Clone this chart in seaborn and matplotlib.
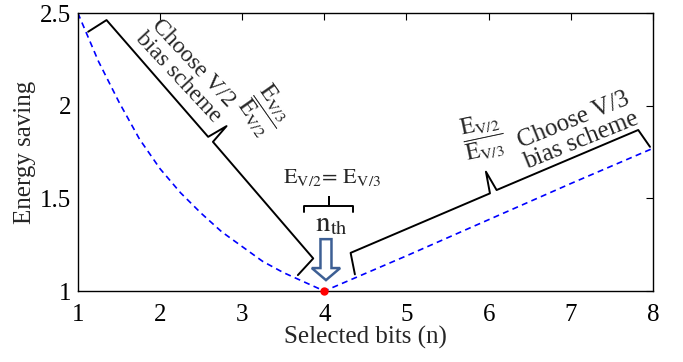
import numpy as np
import pandas as pd
import matplotlib
matplotlib.use("Agg")
import matplotlib.pyplot as plt
import matplotlib.patches as mpatches
import seaborn as sns

# ── Data ───────────────────────────────────────────────────────────────────────
bits = [1.0, 1.25, 1.5, 1.75, 2.0, 2.25, 2.5, 2.75, 3.0, 3.25, 3.5, 3.75, 4.0,
        5.0, 6.0, 7.0, 8.0]
saving = [2.50, 2.24, 2.02, 1.82, 1.66, 1.53, 1.42, 1.32, 1.24, 1.16, 1.10, 1.05, 1.00,
          1.19, 1.385, 1.58, 1.77]
n_th = 4
x_ticks = [1, 2, 3, 4, 5, 6, 7, 8]
y_ticks = [1, 1.5, 2, 2.5]

# brace outlines (data coords)
brace_left_x = [1.125, 1.349, 2.586, 2.810, 2.644, 3.865, 3.678]
brace_left_y = [2.399, 2.462, 1.832, 1.890, 1.805, 1.176, 1.086]
brace_right_x = [4.372, 4.320, 6.016, 5.967, 6.097, 7.821, 7.964]
brace_right_y = [1.090, 1.206, 1.527, 1.644, 1.545, 1.869, 1.778]
brace_mid_x = [3.75, 3.75, 4.06, 4.06, 4.06, 4.35, 4.35]
brace_mid_y = [1.426, 1.458, 1.458, 1.505, 1.458, 1.458, 1.426]

df = pd.DataFrame({"bits": bits, "saving": saving})

# ── Style ──────────────────────────────────────────────────────────────────────
sns.set_theme(style="white")
plt.rcParams["font.family"] = ["Liberation Serif", "DejaVu Serif"]
plt.rcParams["mathtext.fontset"] = "stix"

fig = plt.figure(figsize=(6.83, 3.62), dpi=100)
ax = fig.add_axes([0.114, 0.196, 0.842, 0.768])

sns.lineplot(data=df, x="bits", y="saving", ax=ax, color="#0000ff",
             linewidth=1.2, linestyle="--", dashes=False)
ax.lines[0].set_dashes((3.6, 2.6))
ax.plot([n_th], [1.0], "o", color="red", markersize=5, clip_on=False, zorder=5)

# braces
for bx, by in [(brace_left_x, brace_left_y), (brace_right_x, brace_right_y),
               (brace_mid_x, brace_mid_y)]:
    ax.plot(bx, by, color="black", linewidth=1.4, solid_joinstyle="round")

# hollow arrow pointing at n_th
arrow = mpatches.FancyArrow(4.02, 1.280, 0, -0.221, width=0.134, head_width=0.345,
                            head_length=0.065, length_includes_head=True,
                            facecolor="white", edgecolor="#3d5f94", linewidth=1.8,
                            zorder=4)
ax.add_patch(arrow)

# text annotations
ax.text(2.31, 2.19, "Choose V/2\nbias scheme", rotation=-47, ha="center", va="center",
        fontsize=17, linespacing=1.0, rotation_mode="anchor")
ax.text(3.27, 1.975, r"$\dfrac{\mathrm{E}_{\mathrm{V/3}}}{\mathrm{E}_{\mathrm{V/2}}}$",
        rotation=-55, ha="center", va="center", fontsize=16.5, rotation_mode="anchor")
ax.text(4.09, 1.615, r"$\mathrm{E}_{\mathrm{V/2}}\!=\,\mathrm{E}_{\mathrm{V/3}}$",
        ha="center", va="center", fontsize=16)
ax.text(4.08, 1.36, r"$\mathrm{n}_{\mathrm{th}}$", ha="center", va="center", fontsize=21)
ax.text(5.93, 1.83, r"$\dfrac{\mathrm{E}_{\mathrm{V/2}}}{\mathrm{E}_{\mathrm{V/3}}}$",
        rotation=12, ha="center", va="center", fontsize=16.5, rotation_mode="anchor")
ax.text(7.08, 1.865, "Choose V/3\nbias scheme", rotation=22, ha="center", va="center",
        fontsize=18, linespacing=1.0, rotation_mode="anchor")

# axes
ax.set_xlim(1, 8)
ax.set_ylim(1, 2.5)
ax.set_xticks(x_ticks)
ax.set_yticks(y_ticks)
ax.set_yticklabels(["1", "1.5", "2", "2.5"])
ax.set_xlabel("Selected bits (n)", fontsize=18, labelpad=0)
ax.set_ylabel("Energy saving", fontsize=18, labelpad=3)
ax.tick_params(direction="in", top=True, right=True, length=5, width=0.8,
               labelsize=18, colors="black")
ax.tick_params(axis="x", pad=9)
ax.tick_params(axis="y", pad=5)
for s in ax.spines.values():
    s.set_color("black")
    s.set_linewidth(1.0)

fig.savefig("out.png", dpi=100)
